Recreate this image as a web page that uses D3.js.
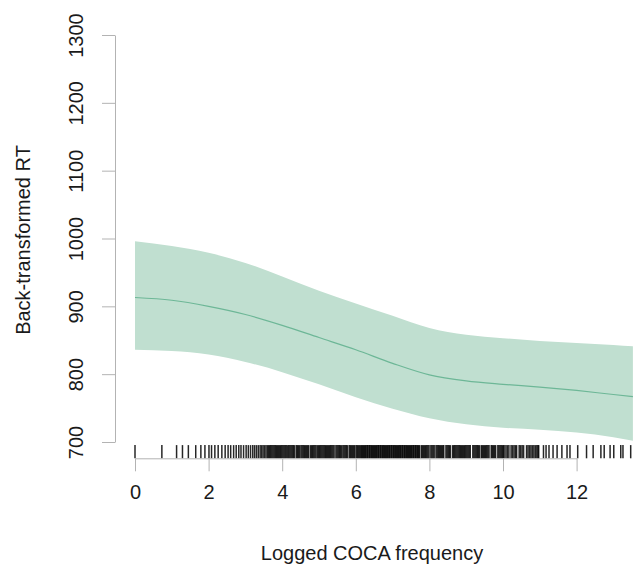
<!DOCTYPE html>
<html>
<head>
<meta charset="utf-8">
<script src="https://cdn.jsdelivr.net/npm/d3@7"></script>
<style>
  html, body { margin: 0; padding: 0; background: #ffffff; }
  svg { display: block; }
  text { font-family: "Liberation Sans", Arial, sans-serif; }
</style>
</head>
<body>
<svg id="chart" width="633" height="567"></svg>
<script>
// ---- data ----
const freq  = [0, 1, 2, 3, 4, 5, 6, 7, 8, 9, 10, 11, 12, 13, 13.53];
const fit   = [913, 909, 900, 888, 872, 854, 836, 816, 799, 790, 785, 781, 776, 770, 767];
const upper = [996, 989, 979, 964, 944, 923, 904, 886, 868, 858, 853, 849, 846, 843, 841];
const lower = [836, 834, 829, 818, 803, 785, 766, 749, 735, 726, 721, 718, 714, 707, 702];
const xTicks = [0, 2, 4, 6, 8, 10, 12];
const yTicks = [700, 800, 900, 1000, 1100, 1200, 1300];
const rugValues = [
  0, 0.73, 1.13, 1.29, 1.45, 1.65, 1.79, 1.9, 2.01, 2.08, 2.17, 2.26, 2.36, 2.45, 2.53, 2.6, 2.68,
  2.75, 2.82, 2.88, 2.95, 3.02, 3.08, 3.14, 3.2, 3.25, 3.3, 3.35, 3.4, 3.44, 3.48, 3.52, 3.56, 3.6,
  3.63, 3.66, 3.69, 3.72, 3.75, 3.78, 3.81, 3.84, 3.87, 3.9, 3.93, 3.96, 3.99, 4.02, 4.05, 4.08, 4.11,
  4.15, 4.18, 4.21, 4.24, 4.27, 4.30, 4.33, 4.38, 4.41, 4.44, 4.47, 4.51, 4.54, 4.57, 4.60, 4.63, 4.66,
  4.69, 4.72, 4.77, 4.80, 4.83, 4.86, 4.89, 4.92, 4.96, 4.99, 5.02, 5.05, 5.08, 5.11, 5.14, 5.17, 5.20,
  5.23, 5.26, 5.29, 5.32, 5.35, 5.38, 5.41, 5.46, 5.49, 5.52, 5.55, 5.58, 5.61, 5.65, 5.68, 5.71, 5.74,
  5.77, 5.82, 5.85, 5.88, 5.91, 5.94, 5.97, 6.01, 6.04, 6.07, 6.10, 6.13,
  6.16, 6.18, 6.21, 6.23, 6.26, 6.28, 6.31, 6.33, 6.36, 6.38, 6.41, 6.43, 6.46, 6.48, 6.51, 6.53,
  6.56, 6.58, 6.61, 6.63, 6.66, 6.68, 6.71, 6.73, 6.76, 6.78, 6.81, 6.83, 6.86, 6.88, 6.91, 6.93,
  6.96, 6.98, 7.01, 7.03, 7.06, 7.08, 7.11, 7.13, 7.16, 7.18, 7.21, 7.23, 7.26, 7.28, 7.31, 7.33,
  7.36, 7.38, 7.41, 7.43, 7.46, 7.48, 7.51, 7.53, 7.56, 7.58, 7.61, 7.63, 7.66, 7.68, 7.71, 7.73,
  7.78, 7.81, 7.84, 7.87, 7.90, 7.93, 7.96, 7.99, 8.04, 8.07, 8.10, 8.13, 8.18, 8.21, 8.24, 8.27,
  8.30, 8.33, 8.36, 8.39, 8.45, 8.48, 8.51, 8.54, 8.57, 8.63, 8.66, 8.69, 8.72, 8.75, 8.78, 8.81,
  8.84, 8.87, 8.90, 8.93, 8.96, 8.99, 9.02, 9.05, 9.08, 9.11, 9.18, 9.21, 9.24, 9.27, 9.30, 9.33,
  9.36, 9.41, 9.44, 9.47, 9.50, 9.53, 9.56, 9.59, 9.62, 9.68, 9.71, 9.74, 9.77, 9.80, 9.86, 9.89,
  9.92, 9.95, 9.98, 10.01, 10.03,
  10.08, 10.12, 10.16, 10.22, 10.26, 10.30, 10.34, 10.37, 10.44, 10.48, 10.52, 10.56, 10.64, 10.68,
  10.72, 10.76, 10.80, 10.84, 10.88, 10.92, 10.95, 10.97,
  11.1, 11.17, 11.25, 11.36, 11.47, 11.6, 11.74, 11.82, 12.03, 12.27, 12.45, 12.66, 12.75, 12.91,
  13.01, 13.2, 13.26, 13.47
];
const xTitle = "Logged COCA frequency";
const yTitle = "Back-transformed RT";

// ---- layout ----
const svg = d3.select("#chart");
const x = d3.scaleLinear().domain([0, 12]).range([135, 576.6]);
const y = d3.scaleLinear().domain([700, 1300]).range([442, 35]);
const axisY0 = 458.3;   // x-axis baseline (plot bottom)
const axisX0 = 115;     // y-axis position (plot left)
const axisColor = "#b3b3b3";
const textColor = "#1a1a1a";

const rows = freq.map((f, i) => ({ f, fit: fit[i], lo: lower[i], hi: upper[i] }));

// confidence band
const area = d3.area()
  .x(d => x(d.f))
  .y0(d => y(d.lo))
  .y1(d => y(d.hi))
  .curve(d3.curveMonotoneX);
svg.append("path").datum(rows)
  .attr("d", area)
  .attr("fill", "#c0dfd0");

// fitted line
const line = d3.line()
  .x(d => x(d.f))
  .y(d => y(d.fit))
  .curve(d3.curveMonotoneX);
svg.append("path").datum(rows)
  .attr("d", line)
  .attr("fill", "none")
  .attr("stroke", "#6db797")
  .attr("stroke-width", 1.2);

// rug
svg.append("g").attr("class", "rug").selectAll("line").data(rugValues).join("line")
  .attr("x1", d => x(d)).attr("x2", d => x(d))
  .attr("y1", axisY0).attr("y2", axisY0 - 13.2)
  .attr("stroke", "#000").attr("stroke-width", 1.5).attr("stroke-opacity", 0.85);

// x axis
const gx = svg.append("g")
  .attr("transform", `translate(0,${axisY0})`)
  .call(d3.axisBottom(x).tickValues(xTicks).tickSize(13).tickSizeOuter(0).tickPadding(13.5).tickFormat(d3.format("d")));
gx.select(".domain").attr("stroke", axisColor);
gx.selectAll(".tick line").attr("stroke", axisColor);
gx.selectAll(".tick text").attr("fill", textColor).attr("font-size", 20)
  .style("font-family", '"Liberation Sans", Arial, sans-serif');

// y axis
const gy = svg.append("g")
  .attr("transform", `translate(${axisX0},0)`)
  .call(d3.axisLeft(y).tickValues(yTicks).tickSize(13).tickSizeOuter(0).tickFormat(d3.format("d")));
gy.select(".domain").attr("stroke", axisColor);
gy.selectAll(".tick line").attr("stroke", axisColor);
gy.selectAll(".tick text")
  .attr("x", null).attr("dy", null)
  .attr("text-anchor", "middle")
  .attr("transform", "translate(-32,0) rotate(-90)")
  .attr("fill", textColor).attr("font-size", 20)
  .style("font-family", '"Liberation Sans", Arial, sans-serif');

// titles
svg.append("text")
  .attr("x", 372).attr("y", 560)
  .attr("text-anchor", "middle")
  .attr("font-size", 20).attr("fill", textColor)
  .text(xTitle);
svg.append("text")
  .attr("transform", "translate(30,240) rotate(-90)")
  .attr("text-anchor", "middle")
  .attr("font-size", 20).attr("fill", textColor)
  .text(yTitle);
</script>
</body>
</html>
